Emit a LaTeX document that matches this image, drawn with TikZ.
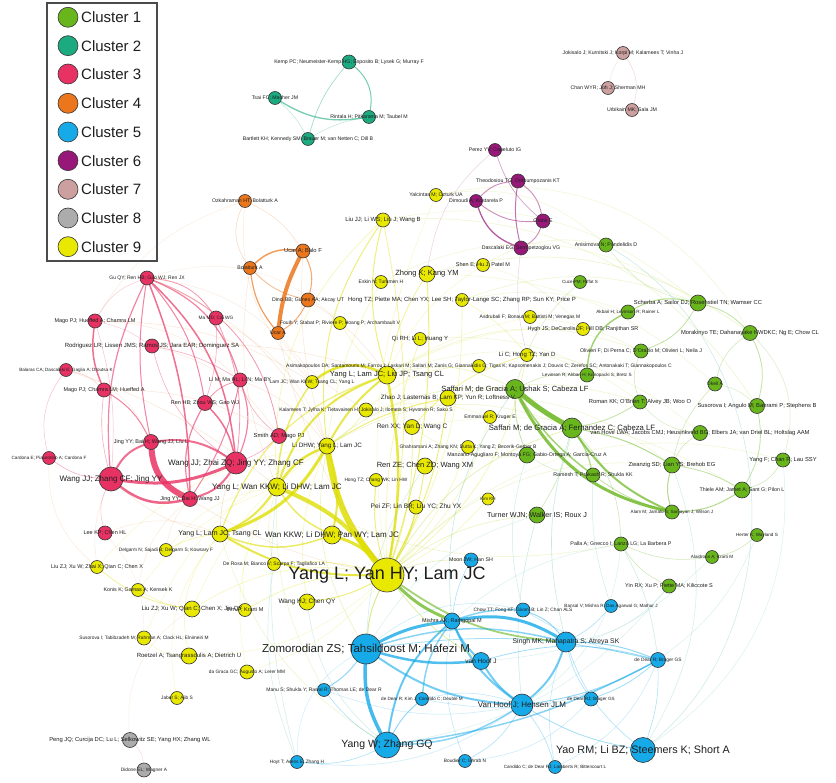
\documentclass[tikz,border=0pt]{standalone}
\usepackage{fontspec}
\setmainfont{Liberation Sans}
\usetikzlibrary{backgrounds}
\definecolor{c1}{RGB}{104,182,28}
\definecolor{c2}{RGB}{28,170,128}
\definecolor{c3}{RGB}{233,50,100}
\definecolor{c4}{RGB}{236,118,28}
\definecolor{c5}{RGB}{22,170,232}
\definecolor{c6}{RGB}{152,24,122}
\definecolor{c7}{RGB}{204,160,158}
\definecolor{c8}{RGB}{172,172,172}
\definecolor{c9}{RGB}{232,232,0}
\definecolor{txt}{RGB}{30,30,30}
\definecolor{rim}{RGB}{55,55,55}
\definecolor{mixgb}{RGB}{70,185,170}
\definecolor{mixyg}{RGB}{180,215,40}
\definecolor{mixry}{RGB}{235,170,120}
\begin{document}
\begin{tikzpicture}[x=1pt,y=-1pt,
  nd/.style={circle,draw=rim,line width=0.6pt,inner sep=0pt,minimum size={2*#1}},
  f1/.style={fill=c1},f2/.style={fill=c2},f3/.style={fill=c3},f4/.style={fill=c4},
  f5/.style={fill=c5},f6/.style={fill=c6},f7/.style={fill=c7},f8/.style={fill=c8},f9/.style={fill=c9},
  lab/.style={font=\fontsize{#1}{#1}\selectfont,text=txt,inner sep=0pt},
  ed/.style={line cap=round},
  er/.style={ed,draw=c3,draw opacity=#1},er/.default=0.6,
  ey/.style={ed,draw=c9!96!black,draw opacity=#1},ey/.default=0.6,
  eg/.style={ed,draw=c1,draw opacity=#1},eg/.default=0.6,
  eb/.style={ed,draw=c5,draw opacity=#1},eb/.default=0.6,
  eo/.style={ed,draw=c4,draw opacity=#1},eo/.default=0.7,
  ep/.style={ed,draw=c6,draw opacity=#1},ep/.default=0.5,
  et/.style={ed,draw=c2,draw opacity=#1},et/.default=0.5,
  ek/.style={ed,draw=c7,draw opacity=#1},ek/.default=0.4,
  em/.style={ed,draw=mixgb,draw opacity=#1},em/.default=0.3,
  ez/.style={ed,draw=mixyg,draw opacity=#1},ez/.default=0.3,
  ex/.style={ed,draw=mixry,draw opacity=#1},ex/.default=0.3,
]
\useasboundingbox (0,0) rectangle (836,783);

% ---------------- legend
\node[draw=rim!90,line width=1.6pt,minimum width=110,minimum height=258,inner sep=0pt] (legend) at (102,132) {};
\node[nd=10,f1] (lg1) at (68,17.3) {};
\node[nd=10,f2] (lg2) at (68,45.7) {};
\node[nd=10,f3] (lg3) at (68,74) {};
\node[nd=10,f4] (lg4) at (68,103.3) {};
\node[nd=10,f5] (lg5) at (68,132) {};
\node[nd=10,f6] (lg6) at (68,160.7) {};
\node[nd=10,f7] (lg7) at (68,189.3) {};
\node[nd=10,f8] (lg8) at (68,218) {};
\node[nd=10,f9] (lg9) at (68,246.7) {};
\node[lab=15,anchor=west] (lt1) at (81,17.3) {Cluster 1};
\node[lab=15,anchor=west] (lt2) at (81,45.7) {Cluster 2};
\node[lab=15,anchor=west] (lt3) at (81,74) {Cluster 3};
\node[lab=15,anchor=west] (lt4) at (81,103.3) {Cluster 4};
\node[lab=15,anchor=west] (lt5) at (81,132) {Cluster 5};
\node[lab=15,anchor=west] (lt6) at (81,160.7) {Cluster 6};
\node[lab=15,anchor=west] (lt7) at (81,189.3) {Cluster 7};
\node[lab=15,anchor=west] (lt8) at (81,218) {Cluster 8};
\node[lab=15,anchor=west] (lt9) at (81,246.7) {Cluster 9};

% ---------------- nodes: cluster 2
\node[nd=7,f2] (kemp) at (349,62) {};
\node[nd=6.5,f2] (tsai) at (275,98) {};
\node[nd=6.5,f2] (rint) at (369,117) {};
\node[nd=6.5,f2] (bart) at (308,139) {};
% cluster 7
\node[nd=6.5,f7] (jok) at (623,53) {};
\node[nd=6.5,f7] (chn) at (608,88) {};
\node[nd=6.5,f7] (urb) at (632,110) {};
% cluster 6
\node[nd=6.5,f6] (per) at (495,150) {};
\node[nd=7,f6] (the) at (518,181) {};
\node[nd=6.5,f6] (dim) at (476,201) {};
\node[nd=7,f6] (gra) at (543,221) {};
\node[nd=7,f6] (das) at (521,248) {};
% cluster 4
\node[nd=6.5,f4] (ozk) at (245,201) {};
\node[nd=7,f4] (ucb) at (303,251) {};
\node[nd=6.5,f4] (bol) at (250,268) {};
\node[nd=7,f4] (din) at (308,300) {};
\node[nd=6.5,f4] (uca) at (278,333) {};
% cluster 9
\node[nd=6.5,f9] (yal) at (436,195) {};
\node[nd=7,f9] (liu) at (383,220) {};
\node[nd=6.5,f9] (she) at (483,265) {};
\node[nd=8,f9] (zho) at (427,274) {};
\node[nd=6.5,f9] (esk) at (381,282) {};
\node[nd=6.5,f9] (tay) at (462,300) {};
\node[nd=6.5,f9] (fou) at (340,323) {};
\node[nd=6.5,f9] (asd) at (530,317) {};
\node[nd=6.5,f9] (qir) at (420,339) {};
\node[nd=6.5,f9] (hyg) at (583,329) {};
\node[nd=6.5,f9] (lic) at (527,355) {};
\node[nd=6.5,f9] (asi) at (479,366) {};
\node[nd=9,f9] (ylj) at (387,375) {};
\node[nd=6.5,f9] (ljw) at (312,382) {};
\node[nd=8,f9] (zhao) at (448,398) {};
\node[nd=7,f9] (kal) at (366,410) {};
\node[nd=7.5,f9] (ren) at (412,427) {};
\node[nd=6.5,f9] (emm) at (490,417) {};
\node[nd=8,f9] (ldhw) at (327,446) {};
\node[nd=6.5,f9] (gha) at (468,447) {};
\node[nd=8,f9] (rze) at (425,466) {};
\node[nd=6.5,f9] (hon) at (376,480) {};
\node[nd=7,f9] (pei) at (416,507) {};
\node[nd=6,f9] (kim) at (488,499) {};
\node[nd=9,f9] (ywk) at (277,487) {};
\node[nd=8,f9] (ylt) at (220,534) {};
\node[nd=9,f9] (wkp) at (332,535) {};
\node[nd=17,f9] (yhy) at (387,575) {};
\node[nd=6.5,f9] (der) at (274,564) {};
\node[nd=8,f9] (whj) at (307,602) {};
\node[nd=6.5,f9] (del) at (166,550) {};
\node[nd=6.5,f9] (lzx) at (97,567) {};
\node[nd=6.5,f9] (kon) at (138,590) {};
\node[nd=8,f9] (lzq) at (192,609) {};
\node[nd=6.5,f9] (ihm) at (245,610) {};
\node[nd=7,f9] (sus) at (144,638) {};
\node[nd=8,f9] (roe) at (189,656) {};
\node[nd=7,f9] (dag) at (247,672) {};
\node[nd=6.5,f9] (jab) at (177,698) {};
% cluster 3
\node[nd=7,f3] (gu) at (147,278) {};
\node[nd=7,f3] (mph) at (95,321) {};
\node[nd=7,f3] (mad) at (216,318) {};
\node[nd=7,f3] (rod) at (152,346) {};
\node[nd=6.5,f3] (bal) at (66,370) {};
\node[nd=7,f3] (mch) at (104,390) {};
\node[nd=7,f3] (lim) at (240,380) {};
\node[nd=7.5,f3] (rhb) at (205,403) {};
\node[nd=7.5,f3] (jbwl) at (151,442) {};
\node[nd=6.5,f3] (car) at (49,458) {};
\node[nd=12,f3] (wzj) at (111,479) {};
\node[nd=7.5,f3] (jbw) at (190,499) {};
\node[nd=11,f3] (wzz) at (236,463) {};
\node[nd=7.5,f3] (smi) at (279,436) {};
\node[nd=7,f3] (lee) at (105,533) {};
% cluster 8
\node[nd=7.5,f8] (peng) at (130,740) {};
\node[nd=7,f8] (did) at (144,770) {};
% cluster 5
\node[nd=7,f5] (moon) at (471,560) {};
\node[nd=15,f5] (zom) at (366,649) {};
\node[nd=8,f5] (mish) at (452,621) {};
\node[nd=7,f5] (chow) at (523,610) {};
\node[nd=6.5,f5] (bans) at (611,606) {};
\node[nd=10,f5] (sing) at (566,642) {};
\node[nd=8.5,f5] (vhj) at (481,661) {};
\node[nd=6.5,f5] (manu) at (324,690) {};
\node[nd=6.5,f5] (ddk) at (422,699) {};
\node[nd=11,f5] (vhh) at (522,705) {};
\node[nd=7,f5] (ddr) at (591,699) {};
\node[nd=7.5,f5] (ddb) at (658,660) {};
\node[nd=13,f5] (yw) at (387,745) {};
\node[nd=6.5,f5] (hoyt) at (297,762) {};
\node[nd=6.5,f5] (bou) at (465,761) {};
\node[nd=6.5,f5] (can) at (555,767) {};
\node[nd=12.5,f5] (yao) at (643,750) {};
% cluster 1
\node[nd=7,f1] (ani) at (606,245) {};
\node[nd=6.5,f1] (cuce) at (580,282) {};
\node[nd=8,f1] (sch) at (698,303) {};
\node[nd=7,f1] (akb) at (628,312) {};
\node[nd=7.5,f1] (mor) at (750,333) {};
\node[nd=7,f1] (oli) at (641,351) {};
\node[nd=7,f1] (lev) at (587,375) {};
\node[nd=7,f1] (oke) at (715,384) {};
\node[nd=9.5,f1] (su) at (515,389) {};
\node[nd=7,f1] (rom) at (640,402) {};
\node[nd=7.5,f1] (susb) at (757,406) {};
\node[nd=10,f1] (sf) at (572,428) {};
\node[nd=7.5,f1] (vh) at (700,433) {};
\node[nd=8,f1] (man) at (527,455) {};
\node[nd=8,f1] (zw) at (672,465) {};
\node[nd=7,f1] (ram) at (593,475) {};
\node[nd=7,f1] (yf) at (783,460) {};
\node[nd=8,f1] (thi) at (742,490) {};
\node[nd=7,f1] (alam) at (672,512) {};
\node[nd=8,f1] (wal) at (537,515) {};
\node[nd=7,f1] (pal) at (621,544) {};
\node[nd=6.5,f1] (her) at (757,535) {};
\node[nd=6.5,f1] (ala) at (712,557) {};
\node[nd=7,f1] (yin) at (669,586) {};

% ---------------- edges (behind nodes)
\begin{pgfonlayer}{background}
\fill[white] (0,0) rectangle (836,783);
% teal
\draw[et=.6,line width=1] (kemp) to[bend left=30] (rint);
\draw[et=.4,line width=.7] (kemp) to[bend right=12] (bart);
\draw[et=.6,line width=1.3] (tsai) to[bend right=20] (rint);
\draw[et=.3,line width=.5] (tsai) to[bend left=10] (bart);
\draw[et=.3,line width=.5] (bart) to[bend left=10] (rint);
% cluster 7
\draw[ek,line width=.5] (jok) to[bend left=25] (urb);
\draw[ek=.3,line width=.4] (jok) to[bend right=10] (chn);
% purple
\draw[ep=.4,line width=.7] (per) to[bend right=15] (gra);
\draw[ep,line width=.9] (the) to[bend right=20] (dim);
\draw[ep,line width=.9] (the) to[bend left=20] (gra);
\draw[ep=.6,line width=1] (the) to[bend right=10] (das);
\draw[ep,line width=.9] (dim) to[bend right=20] (gra);
\draw[ep=.7,line width=1.3] (dim) to[bend right=25] (das);
\draw[ep,line width=.9] (gra) to[bend left=20] (das);
\draw[ep=.2,line width=.5] (das) to[bend right=10] (lic);
\draw[ep=.2,line width=.5] (per) to[bend right=20] (zho);
% orange
\draw[eo=.85,line width=4] (ucb) to[bend right=10] (uca);
\draw[eo,line width=1.5] (bol) to[bend left=25] (ucb);
\draw[eo,line width=1.2] (bol) to[bend right=15] (uca);
\draw[eo=.5,line width=.8] (bol) to[bend right=15] (din);
\draw[eo=.6,line width=1.1] (ucb) to[bend left=20] (din);
\draw[eo=.6,line width=1] (din) to[bend left=15] (uca);
\draw[eo=.3,line width=.5] (ozk) to[bend right=30] (bol);
\draw[eo=.25,line width=.5] (ozk) to[bend left=15] (ucb);
% red
\draw[er=.85,line width=6] (jbwl) to[bend right=30] (jbw);
\draw[er=.8,line width=3] (wzj) to[bend right=15] (wzz);
\draw[er=.75,line width=2.5] (wzj) to[bend right=25] (jbw);
\draw[er=.7,line width=2] (wzj) to[bend left=20] (jbwl);
\draw[er=.7,line width=2] (jbwl) to[bend left=20] (wzz);
\draw[er=.7,line width=2] (wzz) to[bend left=20] (jbw);
\draw[er=.7,line width=1.5] (gu) to[bend left=20] (wzz);
\draw[er=.7,line width=1.5] (gu) to[bend left=10] (jbw);
\draw[er=.6,line width=1] (gu) to[bend left=15] (rhb);
\draw[er=.6,line width=1.2] (gu) to[bend left=25] (lim);
\draw[er=.5,line width=.8] (gu) to[bend left=25] (mad);
\draw[er=.6,line width=1.2] (gu) to[bend right=15] (wzj);
\draw[er=.6,line width=1] (gu) to[bend right=10] (jbwl);
\draw[er=.25,line width=.5] (gu) to[bend right=20] (mph);
\draw[er=.7,line width=1.5] (mph) to[bend right=15] (mch);
\draw[er=.3,line width=.5] (mph) to[bend left=10] (wzj);
\draw[er=.25,line width=.5] (mph) to[bend left=10] (rod);
\draw[er=.6,line width=1] (mch) to[bend left=15] (jbwl);
\draw[er=.4,line width=.6] (mch) to[bend right=10] (wzj);
\draw[er=.4,line width=.6] (rod) to[bend left=10] (lim);
\draw[er=.4,line width=.6] (rod) to[bend right=20] (wzz);
\draw[er=.3,line width=.5] (bal) to[bend right=25] (car);
\draw[er=.25,line width=.4] (bal) to[bend left=15] (mch);
\draw[er=.4,line width=.6] (car) to[bend right=15] (wzj);
\draw[er=.7,line width=1.5] (rhb) to[bend left=15] (wzz);
\draw[er=.6,line width=1.2] (rhb) to[bend right=20] (jbw);
\draw[er=.5,line width=.8] (rhb) to[bend left=15] (lim);
\draw[er=.6,line width=1.2] (lim) to[bend left=20] (wzz);
\draw[er=.6,line width=1] (lim) to[bend left=10] (jbw);
\draw[er=.5,line width=.8] (smi) to[bend right=30] (gu);
\draw[er=.4,line width=.6] (smi) to[bend left=15] (lim);
\draw[er=.4,line width=.6] (smi) to[bend left=10] (wzz);
\draw[er=.3,line width=.5] (lee) to[bend left=20] (wzj);
\draw[er=.5,line width=.8] (mad) to[bend left=15] (wzz);
\draw[er=.4,line width=.6] (mad) to[bend left=10] (rhb);
\draw[er=.2,line width=.5] (peng) to[bend left=20] (did);
% yellow
\draw[ey=.85,line width=6] (ldhw) to[bend right=15] (yhy);
\draw[ey=.8,line width=4] (ywk) to[bend left=15] (yhy);
\draw[ey=.8,line width=3] (wkp) to[bend left=15] (yhy);
\draw[ey=.7,line width=2] (ylt) to[bend right=15] (yhy);
\draw[ey=.75,line width=2.5] (ylj) to[bend left=10] (yhy);
\draw[ey=.8,line width=2.5] (ljw) to[bend left=30] (ylj);
\draw[ey=.8,line width=3] (ldhw) to[bend left=20] (ylt);
\draw[ey=.75,line width=2.5] (ldhw) to[bend right=15] (ywk);
\draw[ey=.7,line width=2] (ldhw) to[bend left=10] (ylj);
\draw[ey=.7,line width=2] (ldhw) to[bend left=15] (wkp);
\draw[ey=.7,line width=2] (ylj) to[bend right=25] (ywk);
\draw[ey=.5,line width=1.2] (ylj) to[bend right=25] (ylt);
\draw[ey=.6,line width=1.5] (ljw) to[bend right=15] (ywk);
\draw[ey=.7,line width=2] (ywk) to[bend left=15] (ylt);
\draw[ey=.6,line width=1.5] (wkp) to[bend left=20] (ylt);
\draw[ey=.6,line width=1.5] (ywk) to[bend right=15] (wkp);
\draw[ey=.5,line width=1] (liu) to[bend right=15] (ylj);
\draw[ey=.5,line width=1] (liu) to[bend right=20] (ldhw);
\draw[ey=.4,line width=.8] (liu) to[bend left=10] (yhy);
\draw[ey=.3,line width=.6] (liu) to[bend right=25] (ywk);
\draw[ey=.5,line width=1] (zho) to[bend left=10] (yhy);
\draw[ey=.4,line width=.8] (zho) to[bend right=10] (ylj);
\draw[ey=.3,line width=.5] (esk) to[bend right=10] (ldhw);
\draw[ey=.3,line width=.6] (tay) to[bend left=15] (yhy);
\draw[ey=.3,line width=.5] (tay) to[bend left=10] (lic);
\draw[ey=.3,line width=.5] (fou) to[bend right=10] (ylj);
\draw[ey=.35,line width=.6] (qir) to[bend right=10] (yhy);
\draw[ey=.3,line width=.5] (asi) to[bend right=20] (kal);
\draw[ey=.5,line width=1] (zhao) to[bend right=10] (ldhw);
\draw[ey=.5,line width=1] (zhao) to[bend left=10] (yhy);
\draw[ey=.4,line width=.8] (ren) to[bend left=15] (lic);
\draw[ey=.4,line width=.8] (ren) to[bend left=10] (yhy);
\draw[ey=.3,line width=.5] (emm) to[bend left=15] (yhy);
\draw[ey=.3,line width=.5] (gha) to[bend left=10] (yhy);
\draw[ey=.5,line width=1] (rze) to[bend left=10] (yhy);
\draw[ey=.5,line width=1] (hon) to[bend right=10] (yhy);
\draw[ey=.5,line width=1] (pei) to[bend left=10] (yhy);
\draw[ey=.3,line width=.5] (kim) to[bend left=10] (yhy);
\draw[ey=.4,line width=.8] (der) to[bend left=10] (yhy);
\draw[ey=.5,line width=1] (whj) to[bend right=10] (yhy);
\draw[ey=.35,line width=.6] (del) to[bend left=10] (ylt);
\draw[ey=.4,line width=.8] (lzx) to[bend right=15] (lzq);
\draw[ey=.3,line width=.5] (kon) to[bend right=10] (lzq);
\draw[ey=.35,line width=.6] (ihm) to[bend left=15] (yhy);
\draw[ey=.25,line width=.4] (sus) to[bend left=20] (ldhw);
\draw[ey=.3,line width=.5] (roe) to[bend left=25] (ylt);
\draw[ey=.25,line width=.4] (dag) to[bend left=20] (ywk);
\draw[ey=.25,line width=.4] (jab) to[bend left=25] (ylt);
\draw[ey=.25,line width=.4] (yal) to[bend right=15] (yhy);
\draw[ey=.25,line width=.4] (she) to[bend right=15] (ylj);
\draw[ey=.25,line width=.4] (asd) to[bend right=10] (ylj);
\draw[ey=.25,line width=.4] (hyg) to[bend right=15] (ylj);
\draw[ey=.35,line width=.6] (lic) to[bend left=20] (yhy);
\draw[ey=.35,line width=.6] (kal) to[bend left=10] (ldhw);
\draw[ey=.3,line width=.5] (lzq) to[bend left=20] (yhy);
\draw[ey=.25,line width=.4] (lzx) to[bend left=20] (ldhw);
\draw[ey=.25,line width=.4] (kon) to[bend left=15] (ywk);
\draw[ey=.25,line width=.4] (roe) to[bend right=20] (yhy);
\draw[ey=.25,line width=.4] (dag) to[bend right=15] (yhy);
\draw[ey=.25,line width=.4] (lzq) to[bend left=15] (ldhw);
\draw[ey=.25,line width=.4] (sus) to[bend right=20] (roe);
\draw[ey=.25,line width=.4] (del) to[bend left=20] (ywk);
\draw[ey=.3,line width=.5] (der) to[bend left=15] (ywk);
\draw[ey=.3,line width=.5] (whj) to[bend left=15] (ldhw);
\draw[ey=.25,line width=.4] (ihm) to[bend left=20] (ywk);
\draw[ey=.25,line width=.4] (kal) to[bend left=15] (emm);
% green
\draw[eg=.85,line width=5] (su) to[bend right=5] (sf);
\draw[eg=.8,line width=3] (su) to[bend right=25] (alam);
\draw[eg=.7,line width=2] (sf) to[bend right=15] (alam);
\draw[eg=.6,line width=1.5] (su) to[bend right=10] (ram);
\draw[eg=.5,line width=1.2] (sf) to[bend left=10] (ram);
\draw[eg=.5,line width=1] (sf) to[bend left=10] (zw);
\draw[eg=.75,line width=3] (yhy) to[bend right=10] (mish);
\draw[eg=.6,line width=1.8] (yhy) to[bend right=15] (sing);
\draw[eg=.4,line width=.8] (man) to[bend left=10] (su);
\draw[eg=.6,line width=1.5] (akb) to[bend right=30] (lev);
\draw[eg=.5,line width=1] (sch) to[bend right=20] (akb);
\draw[eg=.4,line width=.8] (sch) to[bend left=20] (oli);
\draw[eg=.4,line width=.8] (sch) to[bend left=15] (mor);
\draw[eg=.4,line width=.8] (mor) to[bend left=20] (susb);
\draw[eg=.3,line width=.6] (mor) to[bend right=20] (oke);
\draw[eg=.3,line width=.6] (oli) to[bend right=20] (rom);
\draw[eg=.4,line width=.8] (rom) to[bend left=10] (sf);
\draw[eg=.3,line width=.6] (oke) to[bend right=15] (zw);
\draw[eg=.4,line width=.8] (susb) to[bend left=20] (thi);
\draw[eg=.3,line width=.6] (vh) to[bend right=15] (zw);
\draw[eg=.5,line width=1] (zw) to[bend right=15] (alam);
\draw[eg=.4,line width=.8] (zw) to[bend left=10] (thi);
\draw[eg=.5,line width=1] (thi) to[bend left=15] (alam);
\draw[eg=.3,line width=.6] (yf) to[bend left=20] (thi);
\draw[eg=.4,line width=.8] (alam) to[bend left=10] (ram);
\draw[eg=.3,line width=.6] (pal) to[bend right=15] (ala);
\draw[eg=.3,line width=.6] (ala) to[bend right=15] (her);
\draw[eg=.3,line width=.6] (pal) to[bend right=20] (sf);
\draw[eg=.3,line width=.6] (yin) to[bend left=15] (pal);
\draw[eg=.3,line width=.6] (wal) to[bend right=10] (sf);
\draw[eg=.25,line width=.5] (cuce) to[bend right=15] (su);
\draw[eg=.25,line width=.5] (ani) to[bend right=20] (sch);
\draw[eg=.3,line width=.6] (lev) to[bend right=15] (su);
\draw[eg=.25,line width=.5] (man) to[bend right=15] (ram);
\draw[eg=.25,line width=.5] (vh) to[bend left=20] (rom);
\draw[eg=.25,line width=.5] (oke) to[bend left=15] (susb);
\draw[eg=.25,line width=.5] (mor) to[bend left=30] (yf);
% blue
\draw[eb=.8,line width=3] (zom) to[bend left=10] (mish);
\draw[eb=.75,line width=2.5] (zom) to[bend right=10] (vhj);
\draw[eb=.8,line width=3.5] (zom) to[bend right=15] (yw);
\draw[eb=.6,line width=2] (zom) to[bend right=15] (vhh);
\draw[eb=.5,line width=1.5] (zom) to[bend left=15] (sing);
\draw[eb=.8,line width=3] (mish) to[bend left=20] (sing);
\draw[eb=.6,line width=2] (mish) to[bend right=15] (vhh);
\draw[eb=.5,line width=1.5] (mish) to[bend left=10] (chow);
\draw[eb=.6,line width=2] (mish) to[bend right=10] (vhj);
\draw[eb=.6,line width=2] (mish) to[bend right=20] (yw);
\draw[eb=.5,line width=1.5] (mish) to[bend right=15] (ddk);
\draw[eb=.6,line width=2] (vhj) to[bend right=10] (vhh);
\draw[eb=.6,line width=2] (sing) to[bend left=15] (vhh);
\draw[eb=.45,line width=1] (sing) to[bend right=15] (chow);
\draw[eb=.5,line width=1.5] (yw) to[bend right=15] (vhh);
\draw[eb=.5,line width=1.5] (yw) to[bend right=10] (ddb);
\draw[eb=.45,line width=1] (yw) to[bend left=10] (ddk);
\draw[eb=.45,line width=1] (manu) to[bend right=10] (zom);
\draw[eb=.35,line width=.6] (manu) to[bend right=10] (yw);
\draw[eb=.35,line width=.6] (hoyt) to[bend right=15] (yw);
\draw[eb=.25,line width=.4] (hoyt) to[bend left=30] (zom);
\draw[eb=.35,line width=.6] (bou) to[bend right=15] (vhh);
\draw[eb=.35,line width=.6] (can) to[bend right=10] (vhh);
\draw[eb=.4,line width=.8] (yao) to[bend left=10] (vhh);
\draw[eb=.35,line width=.6] (yao) to[bend left=15] (sing);
\draw[eb=.35,line width=.6] (yao) to[bend right=10] (ddb);
\draw[eb=.35,line width=.6] (moon) to[bend right=10] (mish);
\draw[eb=.35,line width=.6] (bans) to[bend left=10] (sing);
\draw[eb=.35,line width=.6] (ddr) to[bend left=10] (sing);
\draw[eb=.4,line width=.8] (ddr) to[bend right=10] (ddb);
\draw[eb=.45,line width=1] (vhh) to[bend right=10] (ddb);
\draw[eb=.45,line width=1] (sing) to[bend left=10] (ddb);
\draw[eb=.3,line width=.5] (chow) to[bend right=10] (ddb);
\draw[eb=.4,line width=.8] (vhj) to[bend left=15] (ddb);
\draw[eb=.4,line width=.8] (zom) to[bend left=10] (ddb);
\draw[eb=.3,line width=.5] (ddk) to[bend right=20] (ddb);
\draw[eb=.3,line width=.5] (bou) to[bend left=15] (mish);
\draw[eb=.3,line width=.5] (can) to[bend left=15] (sing);
\draw[eb=.25,line width=.5] (can) to[bend right=20] (ddb);
\draw[eb=.25,line width=.5] (bou) to[bend right=20] (ddr);
\draw[eb=.25,line width=.5] (hoyt) to[bend right=20] (vhh);
\draw[eb=.25,line width=.5] (manu) to[bend right=15] (vhh);
\draw[eb=.3,line width=.5] (ddk) to[bend left=15] (vhh);
\draw[eb=.25,line width=.5] (zom) to[bend left=25] (chow);
\draw[eb=.3,line width=.5] (yw) to[bend left=20] (mish);
% cross-cluster, faint
\draw[em=.3,line width=.5] (yao) to[bend right=55] (ani);
\draw[em=.25,line width=.5] (hoyt) to[bend left=10] (ywk);
\draw[em=.25,line width=.5] (der) to[bend right=15] (hoyt);
\draw[ex=.3,line width=.5] (gu) to[bend left=20] (ldhw);
\draw[ex=.3,line width=.5] (rod) to[bend left=10] (ylj);
\draw[ex=.3,line width=.5] (mph) to[bend left=15] (ljw);
\draw[ex=.3,line width=.5] (bal) to[bend left=10] (ywk);
\draw[ex=.3,line width=.5] (mch) to[bend left=15] (smi);
\draw[ex=.35,line width=.6] (wzz) to[bend right=10] (ylt);
\draw[ex=.3,line width=.5] (jbw) to[bend right=10] (yhy);
\draw[ex=.3,line width=.5] (lim) to[bend left=15] (ldhw);
\draw[ex=.3,line width=.5] (wzj) to[bend right=15] (ylt);
\draw[ex=.3,line width=.5] (ucb) to[bend right=10] (ldhw);
\draw[ex=.3,line width=.5] (uca) to[bend right=10] (yhy);
\draw[ex=.3,line width=.5] (bol) to[bend right=15] (ywk);
\draw[ex=.3,line width=.5] (din) to[bend left=10] (ylj);
\draw[ex=.25,line width=.5] (ozk) to[bend right=25] (ljw);
\draw[ex=.25,line width=.5] (uca) to[bend right=10] (kal);
\draw[ex=.25,line width=.5] (lee) to[bend left=20] (ylt);
\draw[ex=.25,line width=.5] (car) to[bend right=25] (lzx);
\draw[ex=.25,line width=.5] (lzx) to[bend left=15] (wzj);
\draw[ex=.25,line width=.5] (del) to[bend left=15] (jbw);
\draw[ex=.25,line width=.5] (kon) to[bend left=20] (jbw);
\draw[ex=.2,line width=.5] (sus) to[bend right=20] (lee);
\draw[ex=.2,line width=.5] (peng) to[bend left=30] (lzq);
\draw[ex=.25,line width=.5] (mph) to[bend left=20] (lim);
\draw[ex=.25,line width=.5] (bal) to[bend left=25] (jbwl);
\draw[ex=.25,line width=.5] (rod) to[bend left=20] (smi);
\draw[ex=.25,line width=.5] (gu) to[bend left=25] (ljw);
\draw[ex=.25,line width=.5] (mad) to[bend left=20] (ldhw);
\draw[ex=.2,line width=.5] (gu) to[bend left=30] (fou);
\draw[ex=.2,line width=.5] (mph) to[bend left=20] (ozk);
\draw[ez=.3,line width=.5] (zho) to[bend left=25] (mor);
\draw[ez=.25,line width=.5] (liu) to[bend left=30] (susb);
\draw[ez=.3,line width=.6] (ylj) to[bend left=20] (su);
\draw[ez=.35,line width=.7] (yhy) to[bend left=20] (sf);
\draw[ez=.3,line width=.6] (yhy) to[bend left=15] (wal);
\draw[ez=.3,line width=.6] (ldhw) to[bend left=20] (su);
\draw[ez=.25,line width=.5] (yhy) to[bend left=25] (zw);
\draw[ez=.25,line width=.5] (ylj) to[bend left=25] (oli);
\draw[ez=.25,line width=.5] (tay) to[bend left=20] (sch);
\draw[ez=.2,line width=.5] (yal) to[bend left=35] (mor);
\draw[ez=.25,line width=.5] (zhao) to[bend left=15] (rom);
\draw[ez=.25,line width=.5] (ren) to[bend right=20] (man);
\draw[ez=.25,line width=.5] (lic) to[bend left=15] (lev);
\draw[ez=.25,line width=.5] (she) to[bend left=20] (ani);
\draw[ez=.25,line width=.5] (ywk) to[bend right=20] (pal);
\draw[ez=.2,line width=.5] (liu) to[bend left=25] (sch);
\draw[ez=.2,line width=.5] (zho) to[bend left=20] (oke);
\draw[ez=.2,line width=.5] (yal) to[bend left=25] (ani);
\draw[ez=.2,line width=.5] (she) to[bend left=15] (hyg);
\draw[ez=.2,line width=.5] (tay) to[bend left=15] (akb);
\draw[ez=.2,line width=.5] (asd) to[bend left=10] (oli);
\draw[ez=.2,line width=.5] (esk) to[bend left=30] (sch);
\draw[ez=.2,line width=.5] (qir) to[bend left=20] (rom);
\draw[ez=.2,line width=.5] (ylj) to[bend left=30] (vh);
\draw[ez=.2,line width=.5] (zhao) to[bend left=20] (zw);
\draw[ez=.2,line width=.5] (ren) to[bend left=20] (thi);
\draw[ez=.2,line width=.5] (yhy) to[bend left=30] (yf);
\draw[ez=.25,line width=.5] (ldhw) to[bend left=25] (sf);
\draw[ez=.5,line width=1] (yhy) to[bend right=10] (zom);
\draw[ez=.3,line width=.6] (ldhw) to[bend right=20] (zom);
\draw[ez=.25,line width=.5] (ywk) to[bend right=15] (manu);
\draw[ez=.35,line width=.6] (yhy) to[bend left=10] (moon);
\draw[ez=.4,line width=.8] (yhy) to[bend right=10] (vhj);
\draw[ez=.25,line width=.5] (ylt) to[bend right=20] (yw);
\draw[em=.3,line width=.6] (su) to[bend right=20] (mish);
\draw[em=.3,line width=.6] (sf) to[bend right=15] (sing);
\draw[em=.3,line width=.5] (wal) to[bend right=10] (vhh);
\draw[em=.3,line width=.5] (pal) to[bend left=10] (ddb);
\draw[em=.25,line width=.5] (man) to[bend right=15] (chow);
\draw[em=.25,line width=.5] (ram) to[bend right=10] (bans);
\draw[em=.25,line width=.5] (whj) to[bend right=20] (yw);
\draw[em=.25,line width=.5] (rze) to[bend right=15] (zom);
\draw[em=.25,line width=.5] (zw) to[bend left=25] (yao);
\draw[em=.2,line width=.5] (sing) to[bend right=20] (yin);
\draw[em=.2,line width=.5] (vhh) to[bend right=25] (pal);
\draw[em=.2,line width=.5] (yw) to[bend right=20] (yin);
\draw[em=.2,line width=.5] (mish) to[bend left=15] (pal);
\draw[em=.2,line width=.5] (zom) to[bend left=20] (wal);
\draw[em=.2,line width=.5] (vhj) to[bend right=20] (ala);
\draw[em=.2,line width=.5] (ddb) to[bend right=15] (her);
\draw[em=.2,line width=.5] (yao) to[bend right=30] (yf);
\end{pgfonlayer}

% ---------------- labels
\node[lab=5.2] (Lkemp) at (kemp) {Kemp PC; Neumeister-Kemp HG; Esposito B; Lysek G; Murray F};
\node[lab=5.2] (Ltsai) at (tsai) {Tsai FC; Macher JM};
\node[lab=5.2] (Lrint) at (rint) {Rintala H; Pitkaranta M; Taubel M};
\node[lab=5.2] (Lbart) at (bart) {Bartlett KH; Kennedy SM; Brauer M; van Netten C; Dill B};
\node[lab=5.2] (Ljok) at (jok) {Jokisalo J; Kurnitski J; Korpi M; Kalamees T; Vinha J};
\node[lab=5.2] (Lchn) at (chn) {Chan WYR; Joh J; Sherman MH};
\node[lab=5.2] (Lurb) at (urb) {Urbikain MK; Sala JM};
\node[lab=5.2] (Lper) at (per) {Perez YV; Capeluto IG};
\node[lab=5.2] (Lthe) at (the) {Theodosiou TG; Ordoumpozanis KT};
\node[lab=5.2] (Ldim) at (dim) {Dimoudi A; Kostarela P};
\node[lab=5.2] (Lgra) at (gra) {Gratia E};
\node[lab=5.2] (Ldas) at (das) {Dascalaki EG; Sermpetzoglou VG};
\node[lab=5.2] (Lozk) at (ozk) {Ozkahraman HT; Bolatturk A};
\node[lab=5.8] (Lucb) at (ucb) {Ucar A; Balo F};
\node[lab=5.2] (Lbol) at (bol) {Bolatturk A};
\node[lab=5.2] (Ldin) at (din) {Dinci BB; Gunes AA; Akcay UT};
\node[lab=5.2] (Luca) at (uca) {Ucar A};
\node[lab=5.2] (Lyal) at (yal) {Yalcintas M; Ozturk UA};
\node[lab=6] (Lliu) at (liu) {Liu JJ; Li WS; Liu J; Wang B};
\node[lab=5.5] (Lshe) at (she) {Shen E; Hu J; Patel M};
\node[lab=7.5] (Lzho) at (zho) {Zhong K; Kang YM};
\node[lab=5] (Lesk) at (esk) {Eskin N; Turkmen H};
\node[lab=6] (Ltay) at (tay) {Hong TZ; Piette MA; Chen YX; Lee SH; Taylor-Lange SC; Zhang RP; Sun KY; Price P};
\node[lab=5] (Lfou) at (fou) {Fouih Y; Stabat P; Riviere P; Hoang P; Archambault V};
\node[lab=5] (Lasd) at (asd) {Asdrubali F; Bonaut M; Battisti M; Venegas M};
\node[lab=6] (Lqir) at (qir) {Qi RH; Li L; Huang Y};
\node[lab=5.5] (Lhyg) at (hyg) {Hygh JS; DeCarolis JF; Hill DB; Ranjithan SR};
\node[lab=6] (Llic) at (lic) {Li C; Hong TZ; Yan D};
\node[lab=5] (Lasi) at (asi) {Asimakopoulos DA; Santamouris M; Farrou I; Laskari M; Saliari M; Zanis G; Giannakidis G; Tigas K; Kapsomenakis J; Douvis C; Zerefos SC; Antonakaki T; Giannakopoulos C};
\node[lab=7.5] (Lylj) at (ylj) {Yang L; Lam JC; Liu JP; Tsang CL};
\node[lab=5] (Lljw) at (ljw) {Lam JC; Wan KKW; Tsang CL; Yang L};
\node[lab=6.2] (Lzhao) at (zhao) {Zhao J; Lasternas B; Lam KP; Yun R; Loftness V};
\node[lab=5] (Lkal) at (kal) {Kalamees T; Jylha K; Tietavainen H; Jokisalo J; Ilomets S; Hyvonen R; Saku S};
\node[lab=6.5] (Lren) at (ren) {Ren XX; Yan D; Wang C};
\node[lab=5] (Lemm) at (emm) {Emmanuel R; Kruger E};
\node[lab=6.3] (Lldhw) at (ldhw) {Li DHW; Yang L; Lam JC};
\node[lab=5] (Lgha) at (gha) {Ghahramani A; Zhang KN; Dutta K; Yang Z; Becerik-Gerber B};
\node[lab=7.5] (Lrze) at (rze) {Ren ZE; Chen ZD; Wang XM};
\node[lab=4.8] (Lhon) at (hon) {Hong TZ; Chang WK; Lin HW};
\node[lab=6.5] (Lpei) at (pei) {Pei ZF; Lin BR; Liu YC; Zhu YX};
\node[lab=4.5] (Lkim) at (kim) {Kim KH};
\node[lab=8] (Lywk) at (ywk) {Yang L; Wan KKW; Li DHW; Lam JC};
\node[lab=7] (Lylt) at (ylt) {Yang L; Lam JC; Tsang CL};
\node[lab=8] (Lwkp) at (wkp) {Wan KKW; Li DHW; Pan WY; Lam JC};
\node[lab=18] (Lyhy) at (yhy) {Yang L; Yan HY; Lam JC};
\node[lab=5] (Lder) at (der) {De Rosa M; Bianco V; Scarpa F; Tagliafico LA};
\node[lab=6.5] (Lwhj) at (whj) {Wang HJ; Chen QY};
\node[lab=4.8] (Ldel) at (del) {Delgarm N; Sajadi B; Delgarm S; Kowsary F};
\node[lab=5.5] (Llzx) at (lzx) {Liu ZJ; Xu W; Zhai X; Qian C; Chen X};
\node[lab=5.3] (Lkon) at (kon) {Konis K; Gamas A; Kensek K};
\node[lab=6] (Llzq) at (lzq) {Liu ZJ; Xu W; Qian C; Chen X; Jin QY};
\node[lab=5.5] (Lihm) at (ihm) {Ihm P; Krarti M};
\node[lab=4.8] (Lsus) at (sus) {Susorova I; Tabibzadeh M; Rahman A; Clack HL; Elnimeiri M};
\node[lab=6] (Lroe) at (roe) {Roetzel A; Tsangrassoulis A; Dietrich U};
\node[lab=4.8] (Ldag) at (dag) {da Graca GC; Augusto A; Lerer MM};
\node[lab=4.8] (Ljab) at (jab) {Jaber S; Ajib S};
\node[lab=5] (Lgu) at (gu) {Gu QY; Ren HB; Gao WJ; Ren JX};
\node[lab=5.5] (Lmph) at (mph) {Mago PJ; Hueffed A; Chamra LM};
\node[lab=4.8] (Lmad) at (mad) {Ma MD; Cai WG};
\node[lab=6] (Lrod) at (rod) {Rodriguez LR; Lissen JMS; Ramos JS; Jara EAR; Dominguez SA};
\node[lab=4.6] (Lbal) at (bal) {Balaras CA; Dascalaki E; Gaglia A; Droutsa K};
\node[lab=5.5] (Lmch) at (mch) {Mago PJ; Chamra LM; Hueffed A};
\node[lab=5.5] (Llim) at (lim) {Li M; Ma HL; Li N; Ma BY};
\node[lab=5.5] (Lrhb) at (rhb) {Ren HB; Zhou WS; Gao WJ};
\node[lab=5.5] (Ljbwl) at (jbwl) {Jing YY; Bai H; Wang JJ; Liu L};
\node[lab=4.6] (Lcar) at (car) {Cardona E; Piacentino A; Cardona F};
\node[lab=8] (Lwzj) at (wzj) {Wang JJ; Zhang CF; Jing YY};
\node[lab=5.5] (Ljbw) at (jbw) {Jing YY; Bai H; Wang JJ};
\node[lab=8] (Lwzz) at (wzz) {Wang JJ; Zhai ZQ; Jing YY; Zhang CF};
\node[lab=5.8] (Lsmi) at (smi) {Smith AD; Mago PJ};
\node[lab=5.5] (Llee) at (lee) {Lee KP; Chen HL};
\node[lab=5.8] (Lpeng) at (peng) {Peng JQ; Curcija DC; Lu L; Selkowitz SE; Yang HX; Zhang WL};
\node[lab=4.8] (Ldid) at (did) {Didone EL; Wagner A};
\node[lab=5.3] (Lmoon) at (moon) {Moon JW; Han SH};
\node[lab=11.5] (Lzom) at (zom) {Zomorodian ZS; Tahsildoost M; Hafezi M};
\node[lab=5.5] (Lmish) at (mish) {Mishra AK; Ramgopal M};
\node[lab=4.8] (Lchow) at (chow) {Chow TT; Fong KF; Givoni B; Lin Z; Chan ALS};
\node[lab=4.6] (Lbans) at (bans) {Bansal V; Mishra R; Das Agarwal G; Mathur J};
\node[lab=6.8] (Lsing) at (sing) {Singh MK; Mahapatra S; Atreya SK};
\node[lab=6.5] (Lvhj) at (vhj) {van Hoof J};
\node[lab=5] (Lmanu) at (manu) {Manu S; Shukla Y; Rawal R; Thomas LE; de Dear R};
\node[lab=4.6] (Lddk) at (ddk) {de Dear R; Kim J; Candido C; Deuble M};
\node[lab=8] (Lvhh) at (vhh) {Van Hoof J; Hensen JLM};
\node[lab=4.6] (Lddr) at (ddr) {de Dear RJ; Brager GS};
\node[lab=4.8] (Lddb) at (ddb) {de Dear R; Brager GS};
\node[lab=10.5] (Lyw) at (yw) {Yang W; Zhang GQ};
\node[lab=4.8] (Lhoyt) at (hoyt) {Hoyt T; Arens E; Zhang H};
\node[lab=4.8] (Lbou) at (bou) {Boudier C; Ghrab N};
\node[lab=4.6] (Lcan) at (can) {Candido C; de Dear RJ; Lamberts R; Bittencourt L};
\node[lab=10.8] (Lyao) at (yao) {Yao RM; Li BZ; Steemers K; Short A};
\node[lab=5.3] (Lani) at (ani) {Anisimova N; Pandelidis D};
\node[lab=4.5] (Lcuce) at (cuce) {Cuce PM; Riffat S};
\node[lab=5.8] (Lsch) at (sch) {Scherba A; Sailor DJ; Rosenstiel TN; Wamser CC};
\node[lab=4.6] (Lakb) at (akb) {Akbari H; Levinson R; Rainer L};
\node[lab=5.8] (Lmor) at (mor) {Morakinyo TE; Dahanayake KWDKC; Ng E; Chow CL};
\node[lab=5.3] (Loli) at (oli) {Olivieri F; Di Perna C; D'Orazio M; Olivieri L; Neila J};
\node[lab=4.6] (Llev) at (lev) {Levinson R; Akbari H; Konopacki S; Bretz S};
\node[lab=5] (Loke) at (oke) {Okeil A};
\node[lab=7.5] (Lsu) at (su) {Saffari M; de Gracia A; Ushak S; Cabeza LF};
\node[lab=5.8] (Lrom) at (rom) {Roman KK; O'Brien T; Alvey JB; Woo O};
\node[lab=5.8] (Lsusb) at (susb) {Susorova I; Angulo M; Bahrami P; Stephens B};
\node[lab=7.7] (Lsf) at (sf) {Saffari M; de Gracia A; Fernandez C; Cabeza LF};
\node[lab=5.8] (Lvh) at (vh) {van Hove LWA; Jacobs CMJ; Heusinkveld BG; Elbers JA; van Driel BL; Holtslag AAM};
\node[lab=5.3] (Lman) at (man) {Manzano-Agugliaro F; Montoya FG; Gabio-Ortega A; Garcia-Cruz A};
\node[lab=5.8] (Lzw) at (zw) {Zwanzig SD; Lian YS; Brehob EG};
\node[lab=5.3] (Lram) at (ram) {Ramesh T; Prakash R; Shukla KK};
\node[lab=5.8] (Lyf) at (yf) {Yang F; Chan R; Lau SSY};
\node[lab=5.3] (Lthi) at (thi) {Thiele AM; Jamet A; Sant G; Pilon L};
\node[lab=4.6] (Lalam) at (alam) {Alam M; Jamalu S; Sanjayan J; Wilson J};
\node[lab=7.2] (Lwal) at (wal) {Turner WJN; Walker IS; Roux J};
\node[lab=5.3] (Lpal) at (pal) {Palla A; Gnecco I; Lanza LG; La Barbera P};
\node[lab=4.6] (Lher) at (her) {Herter K; Wayland S};
\node[lab=4.6] (Lala) at (ala) {Alaidroos A; Krarti M};
\node[lab=5.5] (Lyin) at (yin) {Yin RX; Xu P; Piette MA; Kiliccote S};
\end{tikzpicture}
\end{document}
